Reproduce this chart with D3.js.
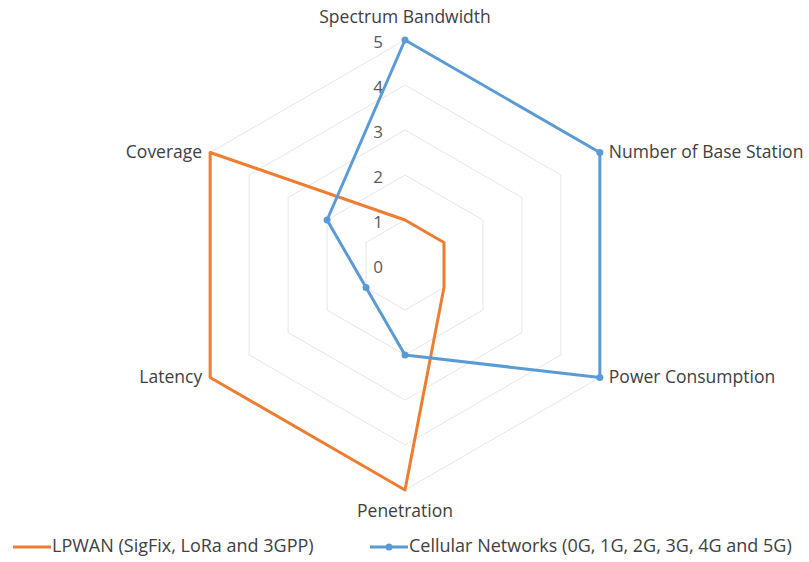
<!DOCTYPE html>
<html>
<head>
<meta charset="utf-8">
<script src="https://cdn.jsdelivr.net/npm/d3@7"></script>
<style>
  body { margin: 0; background: #fff; }
  text { font-family: "Open Sans", sans-serif; fill: #404040; }
</style>
</head>
<body>
<svg id="radar" width="809" height="562"></svg>
<script>
// categories, clockwise from the top
const axes = ["Spectrum Bandwidth", "Number of Base Station", "Power Consumption",
              "Penetration", "Latency", "Coverage"];
const lpwan = [1, 1, 1, 5, 5, 5];
const cellular = [5, 5, 5, 2, 1, 2];
const ticks = [0, 1, 2, 3, 4, 5];
const seriesNames = ["LPWAN (SigFix, LoRa and 3GPP)", "Cellular Networks (0G, 1G, 2G, 3G, 4G and 5G)"];

const cx = 405, cy = 265, radius = 225;
const orange = "#ED7D31", blue = "#5B9BD5";

const svg = d3.select("#radar");
const g = svg.append("g").attr("transform", `translate(${cx},${cy})`);

// radial scale
const r = d3.scaleLinear().domain([0, 5]).range([0, radius]);
const angle = i => i * 2 * Math.PI / axes.length;
const pt = (v, i) => [r(v) * Math.sin(angle(i)), -r(v) * Math.cos(angle(i))];

// grid rings
ticks.filter(t => t > 0).forEach(t => {
    g.append("polygon")
        .attr("points", axes.map((a, i) => pt(t, i).join(",")).join(" "))
        .attr("fill", "none")
        .attr("stroke", "#e6e6e6")
        .attr("stroke-width", 1);
});

// tick labels
g.selectAll(".tick")
    .data(ticks)
    .join("text")
    .attr("x", -27)
    .attr("y", d => -r(d) + 3)
    .attr("text-anchor", "middle")
    .attr("dominant-baseline", "middle")
    .style("font-size", "17px")
    .style("fill", "#595959")
    .text(d => d);

// category labels
g.selectAll(".cat")
    .data(axes)
    .join("text")
    .attr("x", (d, i) => {
        const [x] = pt(5, i);
        return Math.abs(x) < 1 ? x : x + (x > 0 ? 9 : -8);
    })
    .attr("y", (d, i) => {
        const [x, y] = pt(5, i);
        if (Math.abs(x) < 1) return y + (y < 0 ? -22 : 22);
        return y + 1;
    })
    .attr("text-anchor", (d, i) => {
        const [x] = pt(5, i);
        return Math.abs(x) < 1 ? "middle" : (x > 0 ? "start" : "end");
    })
    .attr("dominant-baseline", "middle")
    .style("font-size", "17.5px")
    .text(d => d);

// series lines
const line = d3.line().curve(d3.curveLinearClosed);

g.append("path")
    .attr("d", line(lpwan.map(pt)))
    .attr("fill", "none")
    .attr("stroke", orange)
    .attr("stroke-width", 3)
    .attr("stroke-linejoin", "round");

g.append("path")
    .attr("d", line(cellular.map(pt)))
    .attr("fill", "none")
    .attr("stroke", blue)
    .attr("stroke-width", 3)
    .attr("stroke-linejoin", "round");

g.selectAll(".marker")
    .data(cellular)
    .join("circle")
    .attr("cx", (d, i) => pt(d, i)[0])
    .attr("cy", (d, i) => pt(d, i)[1])
    .attr("r", 3.5)
    .attr("fill", blue);

// legend
const legend = svg.append("g").attr("transform", "translate(0,547)");
const legendItems = [
    { name: seriesNames[0], color: orange, x: 13, marker: false },
    { name: seriesNames[1], color: blue, x: 370, marker: true }
];
legendItems.forEach(it => {
    legend.append("line")
        .attr("x1", it.x).attr("x2", it.x + 38)
        .attr("stroke", it.color).attr("stroke-width", 3);
    if (it.marker) {
        legend.append("circle")
            .attr("cx", it.x + 19).attr("r", 3.5).attr("fill", it.color);
    }
    legend.append("text")
        .attr("x", it.x + 39)
        .attr("dominant-baseline", "middle")
        .style("font-size", "18px")
        .text(it.name);
});
</script>
</body>
</html>
